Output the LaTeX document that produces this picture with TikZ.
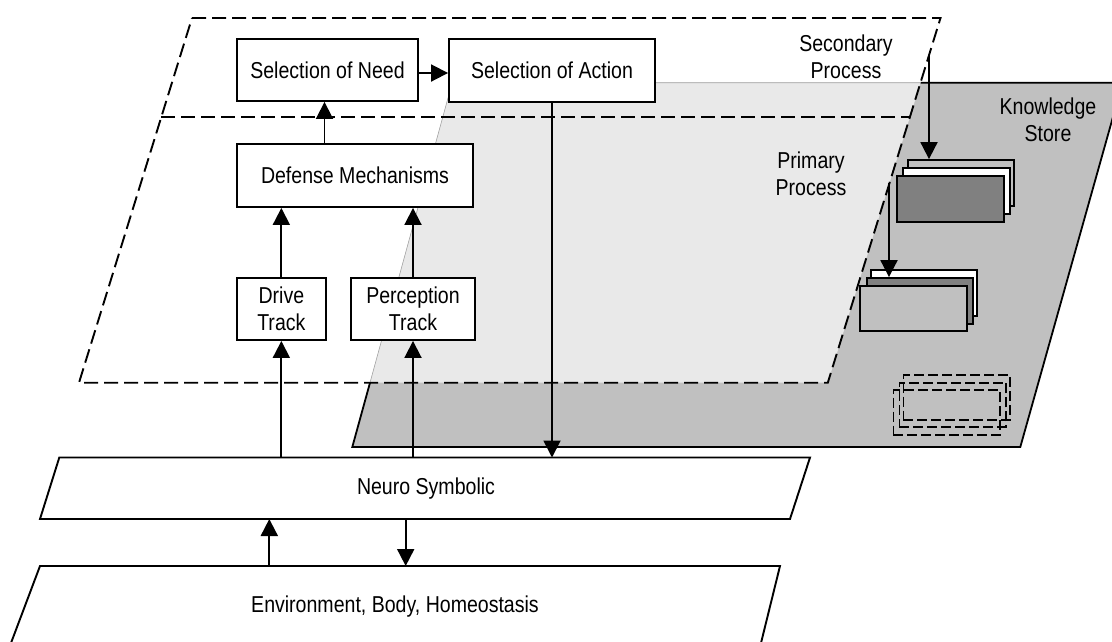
\documentclass[tikz,border=0pt]{standalone}
\usepackage{fontspec}
\setmainfont{Liberation Sans}[FakeStretch=0.85]
\usetikzlibrary{arrows.meta,fit}
\definecolor{storegray}{HTML}{C0C0C0}
\definecolor{cardgray}{HTML}{808080}
\definecolor{planefill}{HTML}{E9E9E9}
\newcommand\diagfont{\fontsize{23}{27.5}\selectfont}
\begin{document}
\begin{tikzpicture}[x=1pt,y=-1pt,
  box/.style={draw, line width=1.9pt, fill=white, inner sep=0pt, align=center, font=\diagfont},
  card/.style={draw, line width=1.8pt, inner sep=0pt},
  ghost/.style={draw, line width=1.6pt, dash pattern=on 10pt off 4pt, inner sep=0pt},
  plane/.style={line width=1.9pt, dash pattern=on 14pt off 6pt},
  arr/.style={line width=1.9pt, -{Triangle[length=17pt,width=17pt]}},
  lbl/.style={font=\diagfont, align=center, inner sep=0pt}
]
\useasboundingbox (0,0) rectangle (1112,641);
\clip (0,0) rectangle (1112,641);

% knowledge store plane
\fill[storegray]
  (452.2,82.7) -- (1122.6,82.7) -- (1020.3,447) -- (352.3,447) -- cycle;
% shading of the process plane where it lies over the store
\begin{scope}
  \clip (452.2,82.7) -- (1122.6,82.7) -- (1020.3,447) -- (352.3,447) -- cycle;
  \fill[planefill] (192,18) -- (940.5,18) -- (827.8,382.7) -- (79,382.7) -- cycle;
\end{scope}
% store outline: solid outside the process plane, faint under it
\draw[line width=1.8pt] (920.5,82.7) -- (1122.6,82.7) -- (1020.3,447) -- (352.3,447) -- (370,382.7);
\draw[gray!70, line width=0.6pt] (920.5,82.7) -- (452.2,82.7) -- (370,382.7);

% secondary / primary process plane
\draw[plane] (192,18) -- (940.5,18) -- (827.8,382.7) -- (79,382.7) -- cycle;
\draw[plane] (161.3,117) -- (910,117);

\node[lbl] (secondary) at (846,57) {Secondary\\Process};
\node[lbl] (primary) at (811,174) {Primary\\Process};
\node[lbl] (store) at (1048,120) {Knowledge\\Store};

% process boxes
\node[box, minimum width=181pt, minimum height=62pt] (need) at (327.5,70) {Selection of Need};
\node[box, minimum width=206pt, minimum height=62.7pt] (action) at (552,70.35) {Selection of Action};
\node[box, minimum width=236pt, minimum height=63pt] (defense) at (355,175.5) {Defense Mechanisms};
\node[box, minimum width=89.3pt, minimum height=62.3pt] (drive) at (281.35,308.85) {Drive\\Track};
\node[box, minimum width=124pt, minimum height=62.3pt] (percept) at (413,308.85) {Perception\\Track};

% memory stacks in the knowledge store
\node[card, fill=storegray, fit={(907.7,160) (1014,206)}] (kA1) {};
\node[card, fill=white, fit={(903.3,168.3) (1010,214)}] (kA2) {};
\node[card, fill=cardgray, fit={(897.3,176) (1004,221.7)}] (kA3) {};
\node[card, fill=white, fit={(870.7,270) (977.3,316)}] (kB1) {};
\node[card, fill=cardgray, fit={(866.7,278) (973.3,324)}] (kB2) {};
\node[card, fill=storegray, fit={(860,286) (967.3,330.7)}] (kB3) {};
\node[ghost, fit={(903.3,375) (1010,420)}] (kC1) {};
\node[ghost, fit={(899.3,382.7) (1006,426.7)}] (kC2) {};
\node[ghost, fit={(893.3,390) (1000,435)}] (kC3) {};

% lower layers
\filldraw[fill=white, line width=1.9pt]
  (59.3,457.5) -- (810,457.5) -- (790,519) -- (40,519) -- cycle;
\node[lbl] (neuro) at (426,489) {Neuro Symbolic};
\filldraw[fill=white, line width=1.9pt]
  (40,566) -- (780,566) -- (756.8,660) -- (4.6,660) -- cycle;
\node[lbl] (env) at (395,607) {Environment, Body, Homeostasis};

\coordinate (neuroTop) at (0,457.5);
\coordinate (neuroBot) at (0,519);
\coordinate (envTop) at (0,566);
\coordinate (senseUp) at (269.3,566);
\coordinate (actDown) at (405.7,519);
\coordinate (recall) at (929,55);
\coordinate (assoc) at (889,183);
\coordinate (needIn) at ([xshift=-3pt]need.south);
\coordinate (needOut) at ([yshift=-3pt]need.east);

% connectors
\draw[arr] (drive.south |- neuroTop) -- (drive.south);
\draw[arr] (percept.south |- neuroTop) -- (percept.south);
\draw[arr] (drive.north) -- (drive.north |- defense.south);
\draw[arr] (percept.north) -- (percept.north |- defense.south);
\draw[arr] (needIn |- defense.north) -- (needIn);
\draw[arr] (needOut) -- (needOut -| action.west);
\draw[arr] (action.south) -- (action.south |- neuroTop);
\draw[arr] (senseUp) -- (senseUp |- neuroBot);
\draw[arr] (actDown) -- (actDown |- envTop);
\draw[arr] (recall) -- (recall |- kA1.north);
\draw[arr] (assoc) -- (assoc |- kB2.north);
\end{tikzpicture}
\end{document}
